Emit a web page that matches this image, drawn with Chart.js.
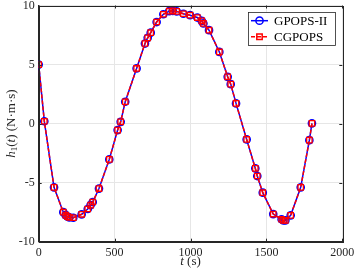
<!DOCTYPE html>
<html>
<head>
<meta charset="utf-8">
<script src="https://cdn.jsdelivr.net/npm/chart.js@4"></script>
<style>
  html, body { margin: 0; padding: 0; background: #fff; }
  #wrap { width: 355px; height: 277px; }
</style>
</head>
<body>
<div id="wrap"><canvas id="myChart" width="355" height="277"></canvas></div>
<script>
'use strict';

//***************** Data *****************
let timePoints = [0, 37, 101, 162, 178, 190, 202, 228, 283, 323, 342, 356, 397, 465, 520, 540, 570,
  645, 700, 718, 738, 777, 821, 860, 883, 909, 953, 997, 1045, 1074, 1085, 1122, 1190,
  1245, 1265, 1300, 1370, 1427, 1440, 1476, 1545, 1600, 1612, 1625, 1660, 1726, 1783, 1800];
let gpopsValues = [5.0, 0.2, -5.4, -7.5, -7.75, -7.88, -7.94, -7.97, -7.68, -7.23, -6.9, -6.64, -5.5,
  -3.03, -0.55, 0.15, 1.85, 4.67, 6.78, 7.26, 7.7, 8.6, 9.26, 9.52, 9.55, 9.5, 9.3, 9.18, 8.98,
  8.7, 8.48, 7.91, 6.07, 3.96, 3.34, 1.71, -1.34, -3.79, -4.44, -5.85, -7.66, -8.1, -8.2, -8.2,
  -7.77, -5.4, -1.4, 0.02];
let cgpopsValues = gpopsValues.slice();
let seriesNames = ['GPOPS-II', 'CGPOPS'];
let xTicks = [0, 500, 1000, 1500, 2000];
let yTicks = [-10, -5, 0, 5, 10];

//***************** Helpers *****************
let serif = '"Liberation Serif", "DejaVu Serif", serif';
let axisColor = '#262626';

function toPoints(values) {
  let pts = [];
  for (let i = 0; i < timePoints.length; i++) {
    pts.push({ x: timePoints[i], y: values[i] });
  }
  return pts;
}

// draws box, inside ticks, axis titles and the legend
let decorPlugin = {
  id: 'decor',
  afterDraw(chart) {
    let c = chart.ctx;
    let a = chart.chartArea;
    let xs = chart.scales.x;
    let ys = chart.scales.y;
    c.save();
    c.strokeStyle = axisColor;
    c.lineWidth = 1;
    c.strokeRect(Math.round(a.left) + 0.5, Math.round(a.top) + 0.5,
      Math.round(a.right - a.left), Math.round(a.bottom - a.top));

    // inside ticks
    c.beginPath();
    for (let i = 0; i < xTicks.length; i++) {
      let px = Math.round(xs.getPixelForValue(xTicks[i])) + 0.5;
      c.moveTo(px, a.bottom); c.lineTo(px, a.bottom - 3);
      c.moveTo(px, a.top); c.lineTo(px, a.top + 3);
    }
    for (let i = 0; i < yTicks.length; i++) {
      let py = Math.round(ys.getPixelForValue(yTicks[i])) + 0.5;
      c.moveTo(a.left, py); c.lineTo(a.left + 3, py);
      c.moveTo(a.right, py); c.lineTo(a.right - 3, py);
    }
    c.stroke();

    // x title: t (s)
    c.fillStyle = axisColor;
    c.textBaseline = 'middle';
    c.font = 'italic 13px ' + serif;
    let wT = c.measureText('t').width;
    c.font = '13px ' + serif;
    let wRest = c.measureText(' (s)').width;
    let startX = (a.left + a.right) / 2 - (wT + wRest) / 2;
    c.font = 'italic 13px ' + serif;
    c.textAlign = 'left';
    c.fillText('t', startX, 262);
    c.font = '13px ' + serif;
    c.fillText(' (s)', startX + wT, 262);

    // y title: h1(t) (N·m·s)
    c.translate(12, (a.top + a.bottom) / 2);
    c.rotate(-Math.PI / 2);
    let parts = [
      { s: 'h', f: 'italic 13px ', dy: 0 },
      { s: '1', f: '9px ', dy: 3 },
      { s: '(', f: '13px ', dy: 0 },
      { s: 't', f: 'italic 13px ', dy: 0 },
      { s: ') (N\u00b7m\u00b7s)', f: '13px ', dy: 0 }
    ];
    let total = 0;
    for (let i = 0; i < parts.length; i++) {
      c.font = parts[i].f + serif;
      parts[i].w = c.measureText(parts[i].s).width;
      total += parts[i].w;
    }
    let cx = -total / 2;
    for (let i = 0; i < parts.length; i++) {
      c.font = parts[i].f + serif;
      c.fillText(parts[i].s, cx, parts[i].dy);
      cx += parts[i].w;
    }
    c.restore();

    // legend
    c.save();
    c.fillStyle = '#ffffff';
    c.fillRect(248.5, 12.5, 87, 33);
    c.strokeStyle = axisColor;
    c.lineWidth = 0.8;
    c.strokeRect(248.5, 12.5, 87, 33);
    let rows = [20.7, 36.7];
    for (let i = 0; i < 2; i++) {
      let ds = chart.data.datasets[i];
      let y = rows[i];
      c.strokeStyle = ds.borderColor;
      c.lineWidth = 1.5;
      c.setLineDash(i === 1 ? [4, 2] : []);
      c.beginPath();
      c.moveTo(251, y); c.lineTo(268, y);
      c.stroke();
      c.setLineDash([]);
      c.beginPath();
      if (i === 0) {
        c.arc(259.5, y, 3.6, 0, Math.PI * 2);
      } else {
        c.rect(256.8, y - 2.7, 5.4, 5.4);
      }
      c.stroke();
      c.fillStyle = '#000';
      c.font = '13px ' + serif;
      c.textAlign = 'left';
      c.textBaseline = 'middle';
      c.fillText(seriesNames[i], 274, y + 0.5);
    }
    c.restore();
  }
};

//***************** Chart *****************
let ctx = document.getElementById('myChart');

let myChartObj = {
  type: 'scatter',
  data: {
    datasets: [{
      label: seriesNames[0],
      data: toPoints(gpopsValues),
      order: 2,
      showLine: true,
      borderColor: '#0000ff',
      borderWidth: 1.5,
      pointStyle: 'circle',
      pointRadius: 3.6,
      pointBorderWidth: 1.5,
      pointBackgroundColor: 'rgba(0,0,0,0)',
      pointBorderColor: '#0000ff'
    },
    {
      label: seriesNames[1],
      data: toPoints(cgpopsValues),
      order: 1,
      showLine: true,
      borderColor: '#ff0000',
      borderWidth: 1.5,
      borderDash: [4, 2],
      pointStyle: 'rect',
      pointRadius: 3.8,
      pointBorderWidth: 1.3,
      pointBackgroundColor: 'rgba(0,0,0,0)',
      pointBorderColor: '#ff0000'
    }]
  },
  options: {
    responsive: false,
    animation: false,
    layout: { padding: { left: 0, top: 5, right: 12.7, bottom: 0 } },
    plugins: {
      legend: { display: false },
      tooltip: { enabled: false }
    },
    scales: {
      x: {
        type: 'linear',
        min: 0,
        max: 2000,
        afterFit(scale) { scale.height = 35.3; scale.paddingLeft = 0; scale.paddingRight = 0; },
        afterBuildTicks(scale) { scale.ticks = xTicks.map(v => ({ value: v })); },
        ticks: {
          color: axisColor,
          padding: 4,
          maxRotation: 0,
          font: { family: serif, size: 12 },
          callback: v => String(v)
        },
        grid: { color: '#e6e6e6', drawTicks: false },
        border: { color: axisColor }
      },
      y: {
        min: -10,
        max: 10,
        afterFit(scale) { scale.width = 38.7; scale.paddingTop = 0; scale.paddingBottom = 0; },
        afterBuildTicks(scale) { scale.ticks = yTicks.map(v => ({ value: v })); },
        ticks: {
          color: axisColor,
          padding: 4,
          font: { family: serif, size: 12 },
          callback: v => String(v)
        },
        grid: { color: '#e6e6e6', drawTicks: false },
        border: { color: axisColor }
      }
    }
  },
  plugins: [decorPlugin]
};

new Chart(ctx, myChartObj);
</script>
</body>
</html>
